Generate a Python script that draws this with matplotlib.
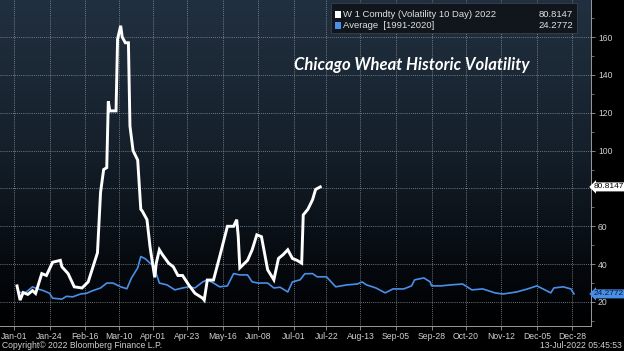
import numpy as np
import matplotlib
matplotlib.use("Agg")
import matplotlib.pyplot as plt
from matplotlib.patches import Rectangle

plt.rcParams['font.family'] = ['Liberation Sans', 'DejaVu Sans']

# day of year (Jan-01 = 0) and value
wheat_day = [2, 4, 6, 9, 12, 14, 18, 21, 25, 30, 31, 35, 39, 44, 48, 54, 56, 58, 60,
             61, 62, 66, 67, 69, 70, 72, 74, 75, 77, 80, 82, 83, 86, 88, 91, 92, 94,
             96, 100, 103, 106, 109, 113, 117, 122, 123, 125, 129, 133, 138, 142, 144,
             145, 146, 151, 154, 157, 160, 164, 168, 171, 174, 177, 180, 183, 186, 187,
             190, 193, 195, 198]
wheat_vol = [28.5, 21, 25, 24, 26, 24.5, 35, 34, 41, 42, 38.6, 35, 28, 27.4, 30.6, 46,
             78, 90, 91, 126, 121, 121, 159, 166, 160, 157, 157, 113, 100, 95, 69, 68,
             63.5, 49, 33, 40.5, 47.6, 45, 40.5, 38.6, 34, 34, 29, 24.6, 22, 21, 31.6,
             31.6, 44, 60, 60, 63.5, 54.5, 38, 42, 47.6, 55.5, 54.5, 37, 31.7, 43, 45,
             47.6, 43, 42, 40.5, 66, 69, 74, 79.5, 80.8147]

avg_day = [3, 7, 12, 15, 19, 23, 25, 31, 34, 38, 43, 47, 51, 56, 60, 64, 69, 73, 76, 80,
           82, 85, 88, 91, 92, 94, 99, 104, 109, 113, 117, 122, 125, 129, 133, 138, 142,
           146, 151, 154, 158, 164, 168, 172, 177, 180, 185, 188, 193, 196, 202, 208,
           215, 222, 225, 228, 234, 240, 245, 252, 257, 259, 265, 269, 270, 276, 282,
           290, 296, 303, 311, 316, 325, 332, 338, 342, 347, 349, 355, 360, 362]
avg_vol = [25.3, 24.6, 28, 27, 26, 24.6, 22, 21.5, 23, 22.7, 24.2, 24.6, 26, 27.4, 30,
           30, 28, 27, 32.7, 38, 44, 42.8, 40.5, 38.6, 35, 30, 29, 26.4, 27.4, 28, 27.4,
           30.6, 31.7, 30, 28, 28.5, 35, 34.3, 34.3, 30.6, 30, 30, 27.4, 27.8, 25.3,
           30.6, 31.7, 34.9, 35, 33.3, 33.3, 28, 29, 29.5, 30.6, 29, 27.4, 24.8, 26.9,
           26.9, 28.5, 31.7, 32.7, 30.6, 28.5, 28.5, 29, 29.5, 26.4, 26.9, 24.8, 24.2,
           25.3, 26.9, 28.5, 26.9, 24.8, 27.4, 28, 26.9, 24.2772]

tick_day = [0, 23, 46, 68, 90, 112, 135, 158, 181, 202, 224, 247, 270, 292, 315, 338, 361]
tick_lbl = ['Jan-01', 'Jan-24', 'Feb-16', 'Mar-10', 'Apr-01', 'Apr-23', 'May-16',
            'Jun-08', 'Jul-01', 'Jul-22', 'Aug-13', 'Sep-05', 'Sep-28', 'Oct-20',
            'Nov-12', 'Dec-05', 'Dec-28']
y_ticks = [20, 40, 60, 80, 100, 120, 140, 160]
y_lbl = ['20', '40', '60', '', '100', '120', '140', '160']  # 80 is hidden under the tag

W, H = 624, 351
fig = plt.figure(figsize=(W / 100, H / 100), dpi=100, facecolor='black')
ax = fig.add_axes([0, 1 - 326 / H, 591 / W, 326 / H])

# dark blue to black background
grad = np.linspace(0, 1, 256).reshape(-1, 1)
cmap = matplotlib.colors.LinearSegmentedColormap.from_list(
    'bg', [(0, '#000000'), (0.12, '#03060a'), (0.55, '#15202b'), (1, '#213040')])
ax.imshow(grad, aspect='auto', cmap=cmap, extent=[0, 1, 0, 1], origin='lower',
          transform=ax.transAxes, zorder=0)

ax.plot(avg_day, avg_vol, color='#4a8fe7', lw=1.2, zorder=3)
ax.plot(wheat_day, wheat_vol, color='white', lw=2.1, zorder=4, solid_joinstyle='miter')

ax.set_xlim(-9, 373)
ax.set_ylim(7.3, 179.6)

ax.yaxis.tick_right()
ax.set_yticks(y_ticks)
ax.set_yticklabels(y_lbl)
ax.set_yticks(range(10, 180, 10), minor=True)
ax.set_xticks(tick_day)
ax.set_xticklabels(tick_lbl)
ax.tick_params(axis='both', colors='#9a9a9a', labelcolor='#d0d0d0', labelsize=6.2,
               length=3, width=0.6, pad=2)
ax.tick_params(axis='y', which='minor', colors='#9a9a9a', length=2, width=0.5)
ax.tick_params(axis='x', pad=1.5)
ax.grid(True, which='major', color='#8f969c', lw=0.6, ls=(0, (1, 1.5)))
for s in ['top', 'left']:
    ax.spines[s].set_visible(False)
for s in ['right', 'bottom']:
    ax.spines[s].set_color('#9a9a9a')
    ax.spines[s].set_linewidth(0.7)

# last-value tags on the axis
ax.annotate('80.8147', xy=(1.0, wheat_vol[-1]), xycoords=('axes fraction', 'data'),
            xytext=(2.2, 0), textcoords='offset points', ha='left', va='center',
            fontsize=6, color='black', annotation_clip=False,
            bbox=dict(boxstyle='larrow,pad=0.12', fc='white', ec='none'))
ax.annotate('24.2772', xy=(1.0, avg_vol[-1]), xycoords=('axes fraction', 'data'),
            xytext=(2.2, 0), textcoords='offset points', ha='left', va='center',
            fontsize=6, color='#0a1a33', annotation_clip=False,
            bbox=dict(boxstyle='larrow,pad=0.12', fc='#4a8fe7', ec='none'))

# legend box
fig.patches.append(Rectangle((331 / W, 1 - 33 / H), 246 / W, 30 / H, transform=fig.transFigure,
                             fc='#10161c', ec='#3a4149', lw=0.6, zorder=5))
fig.patches.append(Rectangle((335 / W, 1 - 18 / H), 6 / W, 7 / H, transform=fig.transFigure,
                             fc='white', ec='none', zorder=6))
fig.patches.append(Rectangle((335 / W, 1 - 29 / H), 6 / W, 7 / H, transform=fig.transFigure,
                             fc='#4a8fe7', ec='none', zorder=6))
fig.text(343 / W, 1 - 14.5 / H, 'W 1 Comdty (Volatility 10 Day) 2022', color='#e0e0e0',
         fontsize=6.8, va='center', zorder=7)
fig.text(573 / W, 1 - 14.5 / H, '80.8147', color='#e0e0e0', fontsize=6.8, va='center',
         ha='right', zorder=7)
fig.text(343 / W, 1 - 25.5 / H, 'Average  [1991-2020]', color='#e0e0e0', fontsize=6.8,
         va='center', zorder=7)
fig.text(573 / W, 1 - 25.5 / H, '24.2772', color='#e0e0e0', fontsize=6.8, va='center',
         ha='right', zorder=7)

fig.text(412 / W, 1 - 65 / H, 'Chicago Wheat Historic Volatility', color='white',
         fontsize=12, fontweight='bold', fontstyle='italic', family=['Lato', 'DejaVu Sans'],
         ha='center', va='center')

fig.text(2 / W, 1 - 345 / H, 'Copyright\u00a9 2022 Bloomberg Finance L.P.', color='#d0d0d0',
         fontsize=6.2, va='center')
fig.text(622 / W, 1 - 345 / H, '13-Jul-2022 05:45:53', color='#d0d0d0', fontsize=6.2,
         va='center', ha='right')

fig.savefig('out.png', dpi=100, facecolor='black')
